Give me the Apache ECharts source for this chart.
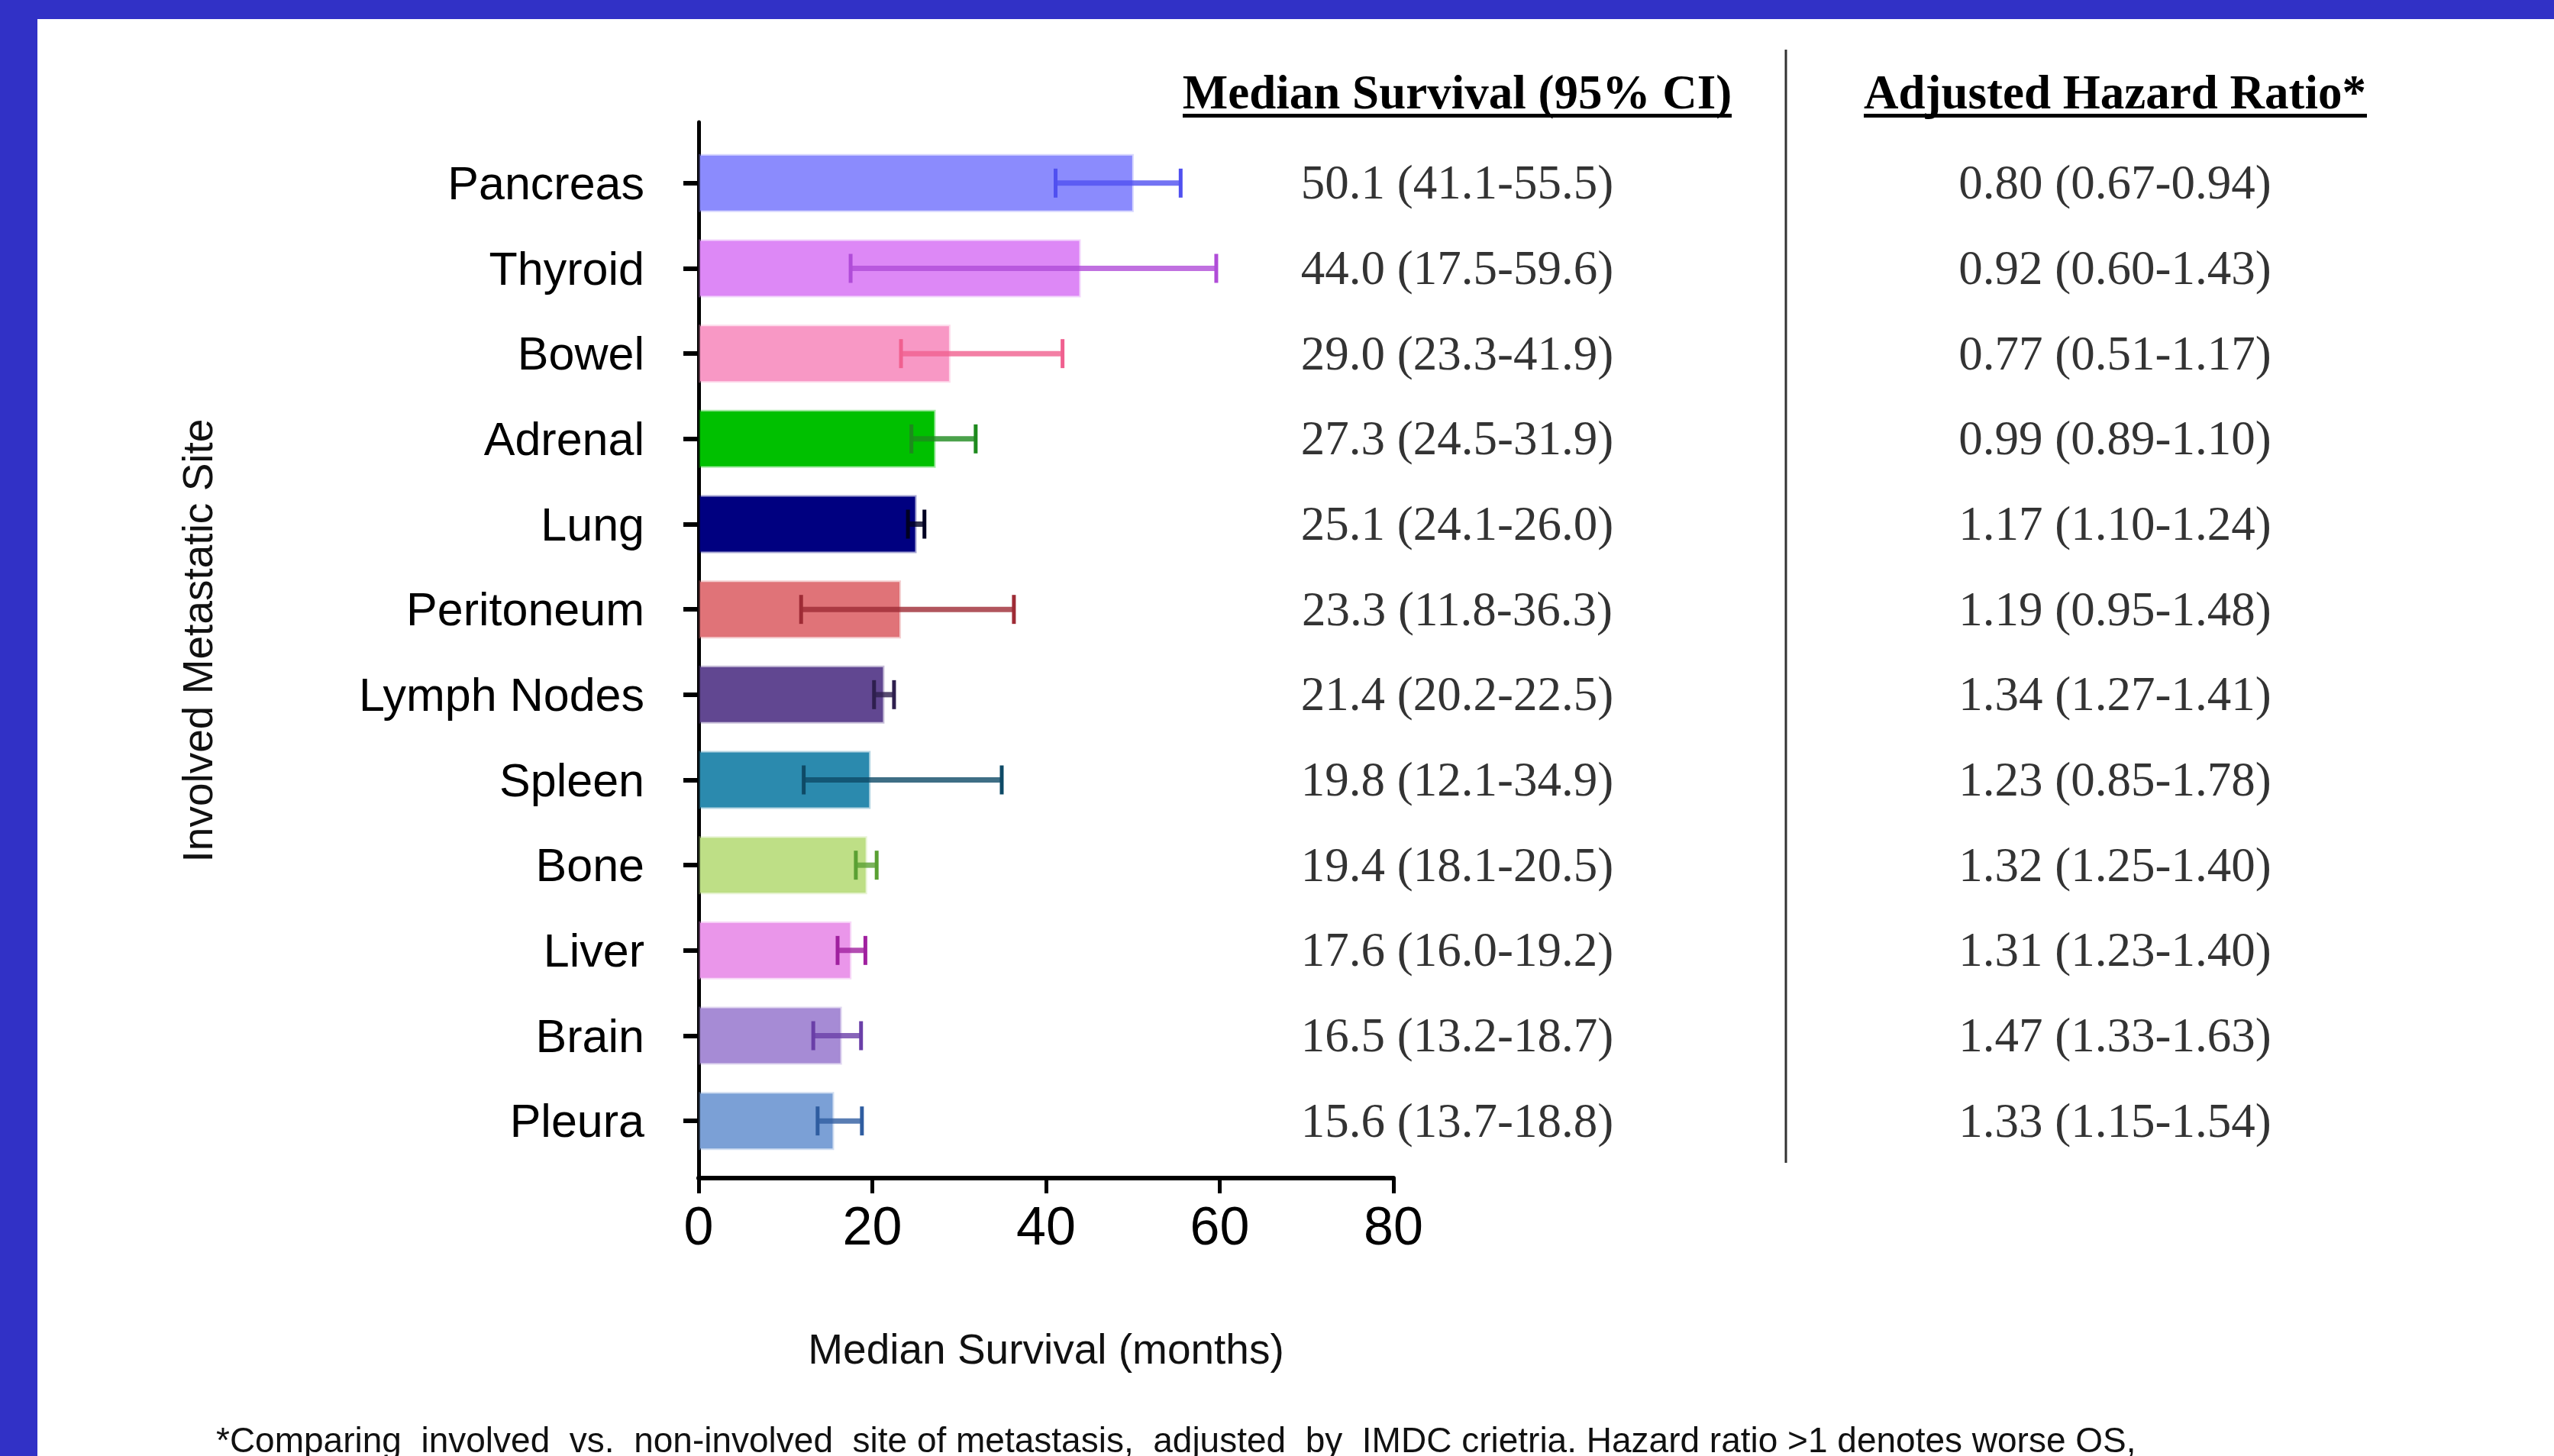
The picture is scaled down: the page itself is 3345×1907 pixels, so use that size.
<!DOCTYPE html>
<html>
<head>
<meta charset="utf-8">
<style>
  html, body { margin: 0; padding: 0; background: #ffffff; }
  #chart { width: 3345px; height: 1907px; }
</style>
<script src="https://cdn.jsdelivr.net/npm/echarts@6.0.0/dist/echarts.min.js"></script>
</head>
<body>
<div id="chart"></div>
<script>
// ---------- data ----------
const categories = ['Pancreas', 'Thyroid', 'Bowel', 'Adrenal', 'Lung', 'Peritoneum',
  'Lymph Nodes', 'Spleen', 'Bone', 'Liver', 'Brain', 'Pleura'];
const medianSurvival = [50.1, 44.0, 29.0, 27.3, 25.1, 23.3, 21.4, 19.8, 19.4, 17.6, 16.5, 15.6];
const ciLow  = [41.1, 17.5, 23.3, 24.5, 24.1, 11.8, 20.2, 12.1, 18.1, 16.0, 13.2, 13.7];
const ciHigh = [55.5, 59.6, 41.9, 31.9, 26.0, 36.3, 22.5, 34.9, 20.5, 19.2, 18.7, 18.8];
const hazardRatio = [0.80, 0.92, 0.77, 0.99, 1.17, 1.19, 1.34, 1.23, 1.32, 1.31, 1.47, 1.33];
const hrLow  = [0.67, 0.60, 0.51, 0.89, 1.10, 0.95, 1.27, 0.85, 1.25, 1.23, 1.33, 1.15];
const hrHigh = [0.94, 1.43, 1.17, 1.10, 1.24, 1.48, 1.41, 1.78, 1.40, 1.40, 1.63, 1.54];
const xTickValues = [0, 20, 40, 60, 80];
const columnHeaders = ['Median Survival (95% CI)', 'Adjusted Hazard Ratio*'];
const xAxisTitle = 'Median Survival (months)';
const yAxisTitle = 'Involved Metastatic Site';
const footnote = '*Comparing  involved  vs.  non-involved  site of metastasis,  adjusted  by  IMDC crietria. Hazard ratio >1 denotes worse OS,';

// ---------- styles ----------
const barColors = ['#8B8BFD', '#DD88F6', '#F898C5', '#00C000', '#000080', '#E07378',
  '#614791', '#2B8AAE', '#BEDF86', '#EA96EA', '#A68BD5', '#7BA0D6'];
const errColors = ['#5050F0', '#B04CD8', '#F0608F', '#1D8A1D', '#000022', '#9E2B35',
  '#2E1F4E', '#0E4A66', '#5AA033', '#A0209F', '#6A3FA8', '#2F5DA0'];
const sans = "'Liberation Sans', Arial, Helvetica, sans-serif";
const serif = "'Liberation Serif', 'Times New Roman', Times, serif";

function hexA(hex, a) {
  const n = parseInt(hex.slice(1), 16);
  return 'rgba(' + ((n >> 16) & 255) + ',' + ((n >> 8) & 255) + ',' + (n & 255) + ',' + a + ')';
}

const chart = echarts.init(document.getElementById('chart'), null, { renderer: 'canvas' });

const barData = medianSurvival.map((v, i) => ({
  value: v,
  itemStyle: { color: barColors[i], borderColor: hexA(barColors[i], 0.35), borderWidth: 4 }
}));

const errData = categories.map((c, i) => [i, ciLow[i], ciHigh[i]]);

function renderError(params, api) {
  const idx = api.value(0);
  const pLo = api.coord([api.value(1), idx]);
  const pHi = api.coord([api.value(2), idx]);
  const capH = api.size([0, 1])[1] * 0.34;
  const col = errColors[idx];
  return {
    type: 'group',
    children: [
      { type: 'line', shape: { x1: pLo[0], y1: pLo[1], x2: pHi[0], y2: pHi[1] },
        style: { stroke: col, lineWidth: 7, opacity: 0.8 } },
      { type: 'line', shape: { x1: pLo[0], y1: pLo[1] - capH / 2, x2: pLo[0], y2: pLo[1] + capH / 2 },
        style: { stroke: col, lineWidth: 5 } },
      { type: 'line', shape: { x1: pHi[0], y1: pHi[1] - capH / 2, x2: pHi[0], y2: pHi[1] + capH / 2 },
        style: { stroke: col, lineWidth: 5 } }
    ]
  };
}

const tableLabel = {
  show: true,
  position: 'inside',
  offset: [0, 4],
  fontFamily: serif,
  fontSize: 63,
  lineHeight: 63,
  color: '#000'
};

const option = {
  backgroundColor: '#ffffff',
  animation: false,
  grid: [
    { left: 915, top: 184, width: 910, height: 1340 },     // bars
    { left: 915, top: 160, width: 910, height: 1383 },     // axis frame
    { left: 1477.75, top: 184, width: 1723, height: 1340 } // table
  ],
  xAxis: [
    { gridIndex: 0, type: 'value', min: xTickValues[0], max: xTickValues[xTickValues.length - 1], show: false },
    {
      gridIndex: 1, type: 'value',
      min: xTickValues[0], max: xTickValues[xTickValues.length - 1],
      interval: xTickValues[1] - xTickValues[0],
      axisLine: { show: true, lineStyle: { color: '#000', width: 6 } },
      axisTick: { show: true, length: 20, lineStyle: { color: '#000', width: 5 } },
      axisLabel: { fontFamily: sans, fontSize: 70, lineHeight: 70, margin: 33, color: '#000' },
      splitLine: { show: false },
      name: xAxisTitle,
      nameLocation: 'middle',
      nameGap: 200,
      nameTextStyle: { fontFamily: sans, fontSize: 55, lineHeight: 55, color: '#111' }
    },
    {
      gridIndex: 2, type: 'category', data: columnHeaders, position: 'top',
      axisLine: { show: false }, axisTick: { show: false }, splitLine: { show: false },
      axisLabel: { fontFamily: serif, fontWeight: 'bold', fontSize: 63, lineHeight: 63, margin: 27, color: '#000', interval: 0 }
    }
  ],
  yAxis: [
    {
      gridIndex: 0, type: 'category', data: categories, inverse: true,
      axisLine: { show: false },
      axisTick: { show: true, alignWithLabel: true, length: 20, lineStyle: { color: '#000', width: 6 } },
      axisLabel: {
        color: '#000', margin: 71, interval: 0,
        formatter: v => '{l|' + v + '}',
        rich: { l: { fontFamily: sans, fontSize: 61, lineHeight: 61, color: '#000', padding: [9, 0, 0, 0] } }
      },
      splitLine: { show: false }
    },
    {
      gridIndex: 1, type: 'value', min: 0, max: 1,
      axisLine: { show: true, lineStyle: { color: '#000', width: 5 } },
      axisTick: { show: false }, axisLabel: { show: false }, splitLine: { show: false }
    },
    { gridIndex: 2, type: 'category', data: categories, inverse: true, show: false }
  ],
  series: [
    {
      type: 'bar', xAxisIndex: 0, yAxisIndex: 0,
      data: barData, barWidth: '68%', z: 2
    },
    {
      type: 'custom', xAxisIndex: 0, yAxisIndex: 0,
      data: errData, renderItem: renderError,
      encode: { x: [1, 2], y: 0 }, z: 3
    },
    {
      type: 'scatter', xAxisIndex: 2, yAxisIndex: 2,
      symbolSize: 1, itemStyle: { color: 'rgba(0,0,0,0)' },
      data: categories.map((c, i) => [0, i]),
      label: Object.assign({}, tableLabel, {
        formatter: p => medianSurvival[p.data[1]].toFixed(1) + ' (' + ciLow[p.data[1]].toFixed(1) + '-' + ciHigh[p.data[1]].toFixed(1) + ')'
      })
    },
    {
      type: 'scatter', xAxisIndex: 2, yAxisIndex: 2,
      symbolSize: 1, itemStyle: { color: 'rgba(0,0,0,0)' },
      data: categories.map((c, i) => [1, i]),
      label: Object.assign({}, tableLabel, {
        formatter: p => hazardRatio[p.data[1]].toFixed(2) + ' (' + hrLow[p.data[1]].toFixed(2) + '-' + hrHigh[p.data[1]].toFixed(2) + ')'
      })
    }
  ],
  graphic: [
    // blue slide frame
    { type: 'rect', left: 0, top: 0, shape: { width: 3345, height: 25 }, style: { fill: '#3131C6' }, z: 10 },
    { type: 'rect', left: 0, top: 0, shape: { width: 49, height: 1907 }, style: { fill: '#3131C6' }, z: 10 },
    // header underlines
    { type: 'rect', shape: { x: 1549, y: 149, width: 719, height: 5 }, style: { fill: '#000' } },
    { type: 'rect', shape: { x: 2441, y: 149, width: 659, height: 5 }, style: { fill: '#000' } },
    // column separator
    { type: 'line', shape: { x1: 2339, y1: 65, x2: 2339, y2: 1523 }, style: { stroke: '#333', lineWidth: 3 } },
    // y-axis title
    { type: 'text', x: 263, y: 839, rotation: Math.PI / 2,
      style: { text: yAxisTitle, fontFamily: sans, fontSize: 55, fill: '#111', align: 'center', verticalAlign: 'middle' } },
    // footnote
    { type: 'text', x: 283, y: 1889,
      style: { text: footnote, fontFamily: sans, fontSize: 46, fill: '#111', align: 'left', verticalAlign: 'middle' } }
  ]
};

chart.setOption(option);
</script>
</body>
</html>
